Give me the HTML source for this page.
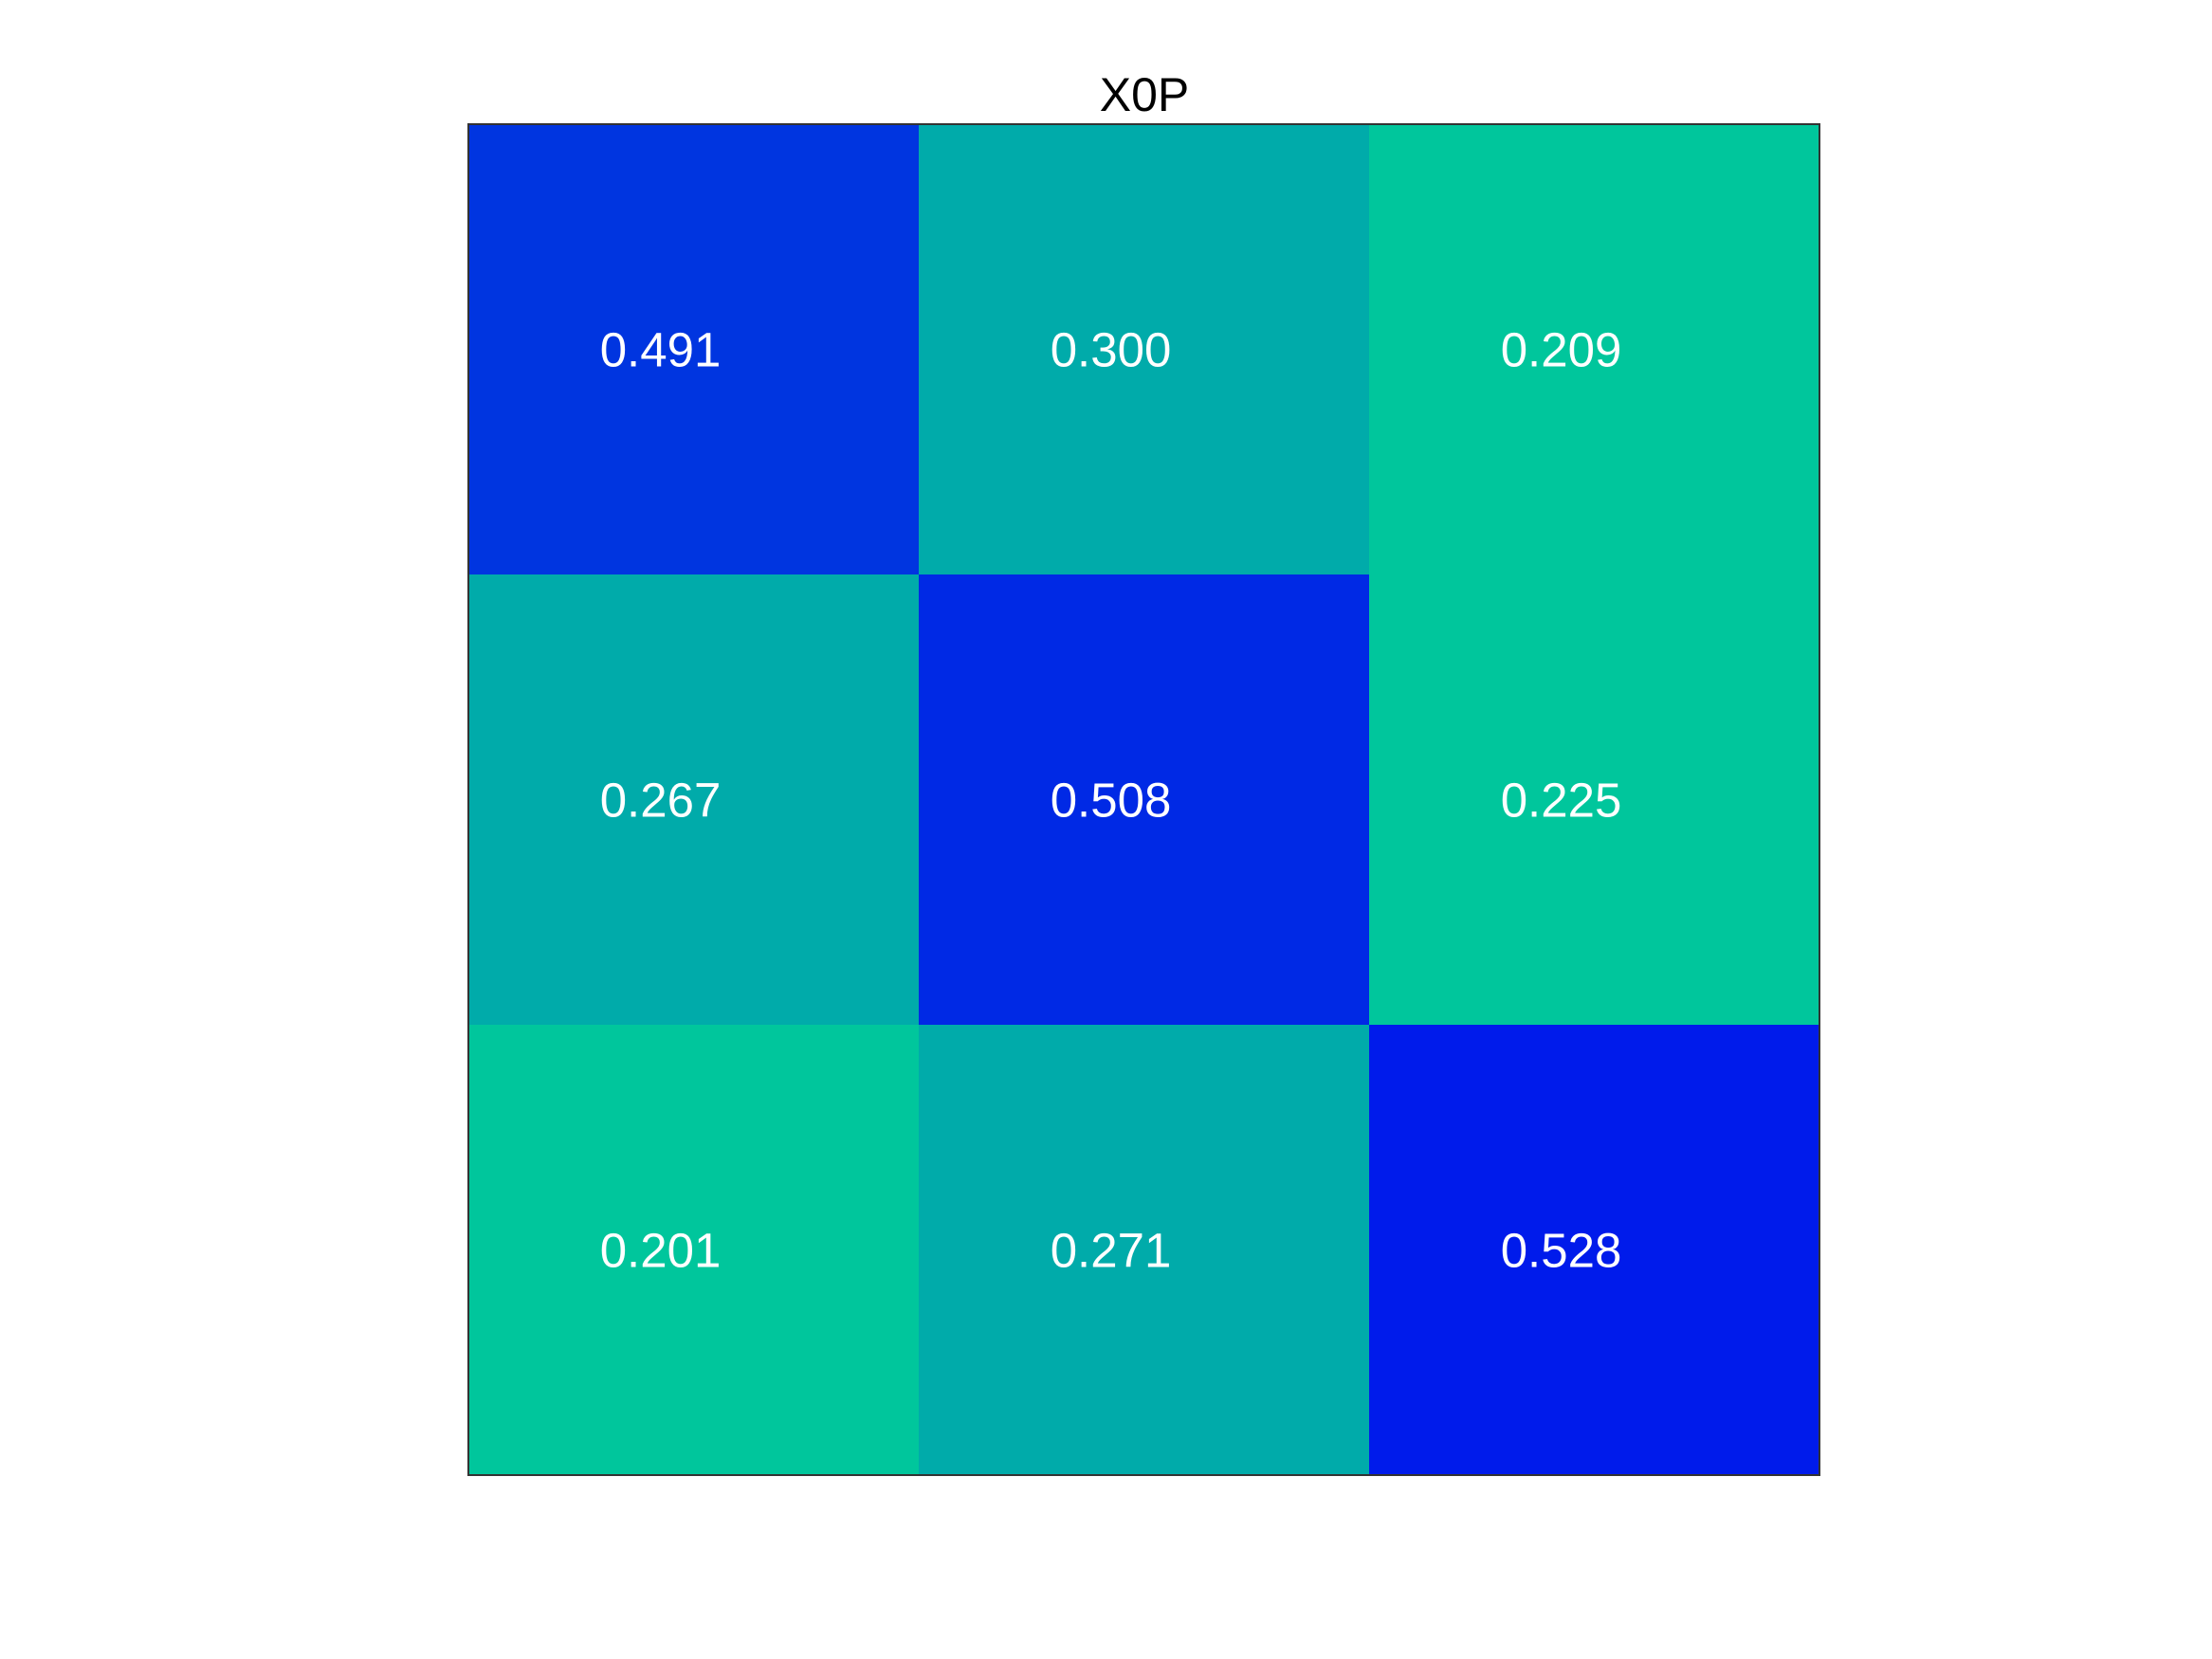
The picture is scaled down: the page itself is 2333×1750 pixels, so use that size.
<!DOCTYPE html>
<html><head><meta charset="utf-8"><style>
html,body{margin:0;padding:0;background:#fff;}
svg{display:block;font-family:"Liberation Sans",sans-serif;}
</style></head><body>
<svg id="chart" width="2333" height="1750" viewBox="0 0 2333 1750">
<text x="1207" y="117" font-size="50" text-anchor="middle" fill="#000">X0P</text>
<g id="cells"></g>
<rect x="494" y="131" width="1425" height="1425" fill="none" stroke="#333" stroke-width="2"/>
</svg>
<script>
const rowLabels = ["r1","r2","r3"];
const colLabels = ["c1","c2","c3"];
const values = [
  [0.491, 0.300, 0.209],
  [0.267, 0.508, 0.225],
  [0.201, 0.271, 0.528]
];
const colorStopValues = [0.20, 0.23, 0.26, 0.31, 0.49, 0.53];
const colorStopColors = [[0,198,156],[0,198,156],[0,171,170],[0,171,170],[0,54,224],[0,26,236]];

const X0 = 494, Y0 = 131, W = 1425, H = 1425;
function xScale(i){ return X0 + i * W / colLabels.length; }
function yScale(j){ return Y0 + j * H / rowLabels.length; }
function color(v){
  const s = colorStopValues, c = colorStopColors;
  if (v <= s[0]) return c[0];
  for (let k = 1; k < s.length; k++) {
    if (v <= s[k]) {
      const t = (v - s[k-1]) / (s[k] - s[k-1]);
      return c[k-1].map((a, i) => Math.round(a + (c[k][i] - a) * t));
    }
  }
  return c[c.length-1];
}
const g = document.getElementById('cells');
const NS = 'http://www.w3.org/2000/svg';
values.forEach((row, j) => {
  row.forEach((v, i) => {
    const x = xScale(i), y = yScale(j);
    const w = xScale(i+1) - x, h = yScale(j+1) - y;
    const r = document.createElementNS(NS, 'rect');
    r.setAttribute('x', x); r.setAttribute('y', y);
    r.setAttribute('width', w + 0.5); r.setAttribute('height', h + 0.5);
    r.setAttribute('fill', 'rgb(' + color(v).join(',') + ')');
    
    
    g.appendChild(r);
    const t = document.createElementNS(NS, 'text');
    t.setAttribute('x', x + w/2 - 35);
    t.setAttribute('y', y + h/2 + 18);
    t.setAttribute('font-size', '51');
    t.setAttribute('text-anchor', 'middle');
    t.setAttribute('fill', '#fff');
    t.textContent = v.toFixed(3);
    
    
    g.appendChild(t);
  });
});
</script>
</body></html>
